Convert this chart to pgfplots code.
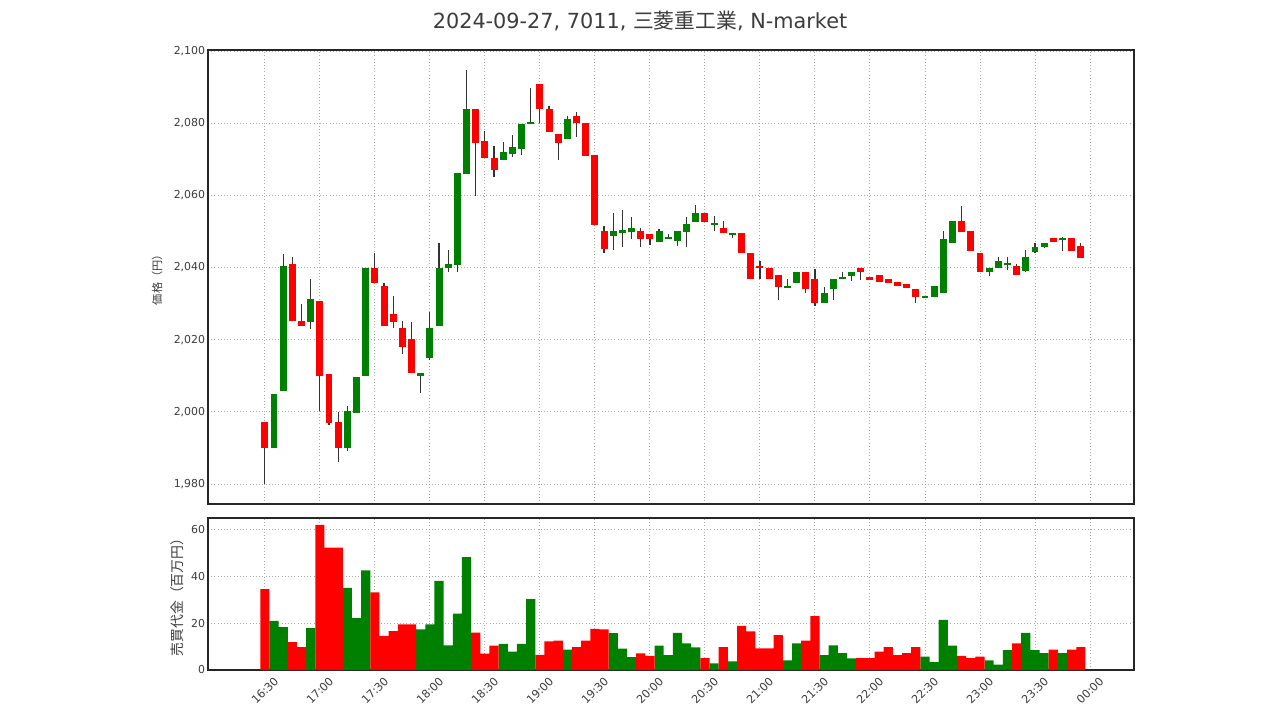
\documentclass[border=0pt]{standalone}
\usepackage{pgfplots}
\pgfplotsset{compat=1.18}
\usepackage{pgfplotstable}
\usepackage{fontspec}
\setmainfont{DejaVu Sans}
\newfontfamily\jp{Noto Sans CJK JP}
\definecolor{cred}{RGB}{255,0,0}
\definecolor{cgreen}{RGB}{0,128,0}
\definecolor{txt}{RGB}{60,60,60}
\definecolor{gridc}{RGB}{170,170,170}

\pgfplotstableread{
i o h l c v up
0 1997.1 1997.1 1979.9 1989.9 34.5 0
1 1989.9 2005.0 1989.9 2005.0 21.0 1
2 2005.8 2043.8 2005.8 2040.3 18.3 1
3 2041.0 2042.8 2025.2 2025.2 11.9 0
4 2025.2 2029.8 2023.8 2023.8 9.8 0
5 2024.8 2036.8 2022.9 2031.2 17.9 1
6 2030.7 2030.7 2000.1 2009.8 62.0 0
7 2010.4 2010.4 1996.3 1996.8 52.3 0
8 1997.2 2000.1 1986.0 1989.9 52.3 0
9 1989.9 2001.7 1989.2 2000.1 35.1 1
10 1999.8 2009.6 1999.8 2009.6 22.2 1
11 2009.8 2039.8 2009.8 2039.8 42.5 1
12 2039.8 2044.0 2035.8 2035.8 33.1 0
13 2034.9 2035.8 2023.8 2023.8 14.6 0
14 2027.1 2032.1 2023.2 2024.9 16.6 0
15 2023.2 2025.2 2016.0 2017.9 19.5 0
16 2020.1 2024.8 2010.9 2010.9 19.5 0
17 2009.8 2010.9 2005.3 2010.9 17.3 1
18 2015.0 2027.8 2014.4 2023.2 19.5 1
19 2023.9 2046.9 2023.9 2039.8 38.1 1
20 2039.8 2044.9 2038.9 2041.0 10.5 1
21 2040.7 2066.1 2038.9 2066.1 24.1 1
22 2066.0 2094.8 2066.0 2083.9 48.2 1
23 2083.9 2083.9 2059.9 2074.6 16.0 0
24 2075.0 2077.9 2070.5 2070.5 7.0 0
25 2070.5 2073.7 2065.2 2067.1 10.4 0
26 2069.8 2074.9 2069.8 2071.9 11.2 1
27 2071.4 2076.8 2070.7 2073.5 7.9 1
28 2072.9 2079.8 2071.1 2079.8 11.2 1
29 2079.9 2089.7 2079.9 2080.1 30.3 1
30 2090.9 2090.9 2080.0 2083.9 6.5 0
31 2083.9 2084.8 2077.7 2077.7 12.2 0
32 2076.9 2076.9 2069.8 2074.6 12.6 0
33 2075.7 2082.1 2075.7 2081.1 8.7 1
34 2082.1 2083.0 2076.3 2080.0 9.8 0
35 2080.0 2080.0 2070.9 2070.9 12.6 0
36 2071.2 2071.2 2051.8 2051.8 17.6 0
37 2050.0 2051.6 2044.0 2045.1 17.3 0
38 2048.8 2055.0 2044.9 2050.0 15.8 1
39 2049.9 2056.0 2045.8 2050.1 9.1 1
40 2049.9 2054.1 2047.8 2050.9 5.5 1
41 2050.0 2050.9 2045.8 2048.0 7.1 0
42 2049.3 2049.3 2046.3 2048.0 6.0 0
43 2047.0 2050.7 2047.0 2050.0 10.4 1
44 2048.0 2049.3 2048.0 2048.6 6.4 1
45 2047.5 2050.0 2046.1 2050.0 15.9 1
46 2049.9 2054.1 2045.8 2052.0 11.4 1
47 2052.7 2057.4 2052.7 2055.0 9.7 1
48 2055.0 2055.0 2052.7 2052.7 5.1 0
49 2051.9 2054.3 2050.0 2052.2 2.8 1
50 2050.9 2053.0 2049.5 2049.5 9.8 0
51 2049.0 2049.5 2048.1 2049.5 3.7 1
52 2049.5 2049.5 2044.0 2044.0 18.8 0
53 2044.0 2044.0 2036.9 2036.9 16.5 0
54 2040.3 2041.8 2036.7 2040.0 9.2 0
55 2040.0 2040.0 2036.7 2036.7 9.2 0
56 2037.9 2037.9 2031.0 2034.5 14.9 0
57 2034.4 2036.7 2034.3 2034.9 4.1 1
58 2035.8 2038.9 2035.8 2038.9 11.4 1
59 2038.9 2038.9 2033.0 2034.0 12.6 0
60 2036.8 2039.5 2029.2 2030.1 23.0 0
61 2030.1 2034.7 2030.1 2033.0 6.4 1
62 2034.0 2036.8 2031.0 2036.8 10.5 1
63 2036.7 2038.9 2036.7 2037.3 7.2 1
64 2037.7 2038.9 2036.4 2038.9 5.0 1
65 2039.8 2039.8 2036.6 2038.9 5.1 0
66 2037.5 2037.5 2036.6 2036.6 5.1 0
67 2037.9 2037.9 2036.1 2036.1 7.9 0
68 2036.8 2036.8 2035.8 2035.8 9.8 0
69 2035.9 2035.9 2034.9 2034.9 6.4 0
70 2035.4 2035.4 2034.4 2034.4 7.2 0
71 2034.1 2034.1 2030.1 2031.8 9.8 0
72 2031.8 2032.1 2031.8 2032.1 5.7 1
73 2031.8 2034.9 2031.8 2034.9 3.4 1
74 2033.0 2050.0 2033.0 2047.8 21.4 1
75 2046.9 2053.0 2046.9 2053.0 10.4 1
76 2053.0 2057.1 2049.8 2049.8 6.0 0
77 2050.0 2050.0 2044.7 2044.7 5.1 0
78 2044.1 2044.1 2038.9 2038.9 5.7 0
79 2038.7 2039.8 2037.8 2039.8 4.1 1
80 2039.8 2042.8 2039.8 2041.9 2.3 1
81 2040.8 2042.8 2039.3 2041.2 8.5 1
82 2040.4 2041.0 2037.8 2037.8 11.4 0
83 2038.9 2044.9 2038.9 2042.8 15.9 1
84 2044.2 2046.9 2044.0 2045.8 8.5 1
85 2045.6 2046.9 2045.3 2046.9 7.2 1
86 2048.1 2048.1 2047.0 2047.0 8.7 0
87 2047.8 2048.6 2044.7 2048.1 7.2 1
88 2048.1 2048.1 2044.7 2044.7 8.7 0
89 2046.0 2046.7 2042.7 2042.7 9.8 0
}\data

\pgfplotsset{
  common/.style={
    scale only axis, anchor=north west, width=694.5pt,
    xmin=-6.2, xmax=94.8,
    xtick={0,6,...,90},
    grid=major,
    major grid style={gridc, dotted, line width=0.7pt},
    axis line style={black!85, line width=0.9pt},
    major tick length=0pt,
    xtick pos=bottom, ytick pos=left,
    ticklabel style={text=txt, font=\fontsize{8.2}{9}\selectfont},
    yticklabel style={inner xsep=2pt},
    /pgf/number format/1000 sep={,},
    /pgf/number format/assume math mode=true,
  },
  wick/.style={only marks, mark=text, text mark={}, forget plot,
    error bars/y dir=both, error bars/y explicit, error bars/error mark=none,
    error bars/error bar style={line width=0.9pt, draw=black!80}},
  body/.style 2 args={only marks, mark=text, text mark={}, forget plot,
    restrict expr to domain={\thisrow{up}}{#1},
    error bars/y dir=both, error bars/y explicit, error bars/error mark=none,
    error bars/error bar style={line width=5.2pt, draw=#2}},
}

\begin{document}
\begin{tikzpicture}
\path[use as bounding box] (0,0) rectangle (960pt,-540pt);
\node[text=txt, font=\fontsize{15.6}{18}\selectfont] at (480pt,-15.5pt) {2024-09-27, 7011, {\jp 三菱重工業}, N-market};

\begin{axis}[common, at={(156pt,-37.5pt)}, height=340.5pt,
  ymin=1974.45, ymax=2100.3,
  ytick={1980,2000,...,2100},
  xticklabels={},
  ylabel={価格（円）},
  ylabel style={text=txt, font=\jp\fontsize{8.4}{9}\selectfont, yshift=3pt}]
\addplot[wick] table[x=i, y expr={(\thisrow{h}+\thisrow{l})/2}, y error expr={(\thisrow{h}-\thisrow{l})/2}] {\data};
\addplot[body={0.5:1.5}{cgreen}] table[x=i, y expr={(\thisrow{o}+\thisrow{c})/2}, y error expr={max(abs(\thisrow{c}-\thisrow{o})/2,0.3)}] {\data};
\addplot[body={-0.5:0.5}{cred}] table[x=i, y expr={(\thisrow{o}+\thisrow{c})/2}, y error expr={max(abs(\thisrow{c}-\thisrow{o})/2,0.3)}] {\data};
\end{axis}

\begin{axis}[common, at={(156pt,-388.5pt)}, height=114pt,
  ymin=0, ymax=64.9,
  ytick={0,20,40,60},
  xticklabels={16:30,17:00,17:30,18:00,18:30,19:00,19:30,20:00,20:30,21:00,21:30,22:00,22:30,23:00,23:30,00:00},
  xticklabel style={yshift=-15.5pt, rotate=45, anchor=center, font=\fontsize{8.4}{9}\selectfont},
  ylabel={売買代金（百万円）},
  ylabel style={text=txt, font=\jp\fontsize{10.4}{11}\selectfont, yshift=0pt},
  ybar, bar width=1, bar shift=0pt]
\addplot[fill=cgreen, draw=none, restrict expr to domain={\thisrow{up}}{0.5:1.5}] table[x=i, y=v] {\data};
\addplot[fill=cred, draw=none, restrict expr to domain={\thisrow{up}}{-0.5:0.5}] table[x=i, y=v] {\data};
\end{axis}
\end{tikzpicture}
\end{document}
